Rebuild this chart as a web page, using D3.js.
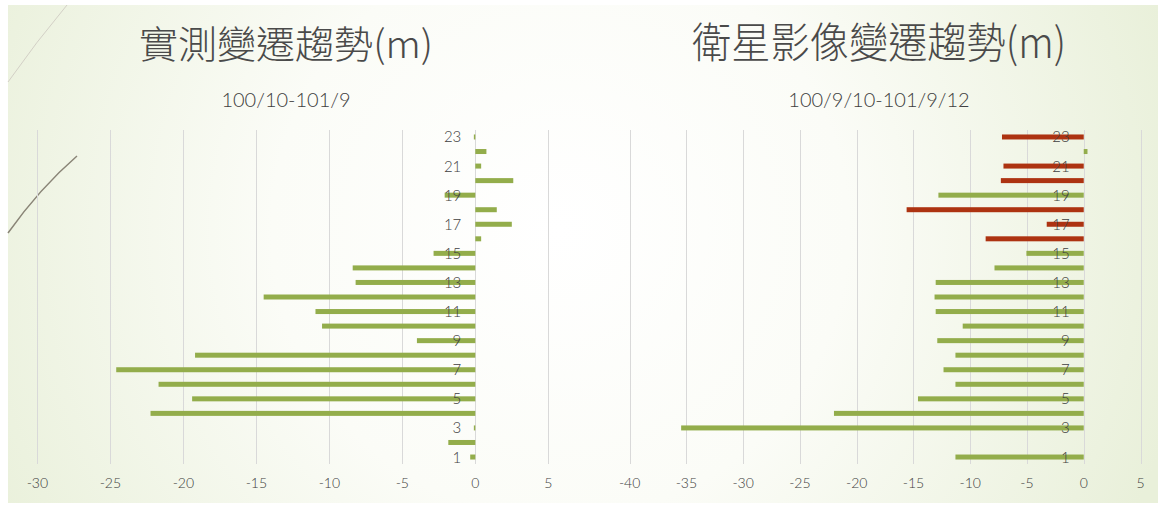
<!DOCTYPE html>
<meta charset="utf-8">
<style>
html, body { margin: 0; padding: 0; background: #fff; }
svg text { font-family: "Lato", "Noto Sans", sans-serif; font-weight: 300; fill: #404040; }
.title { font-family: "Noto Sans CJK TC", "Noto Sans", sans-serif; font-weight: 300; fill: #4a4a4a; }
.grid line { stroke: #d9d9d9; stroke-width: 1; }
</style>
<body>
<script src="https://d3js.org/d3.v7.min.js"></script>
<script>
// categories 1..23
var cats = d3.range(1, 24);
var catLabels = cats.map(function(c) { return c % 2 ? String(c) : ""; });

// 實測變遷趨勢 values (m), by category 1..23
var measured = [-0.35, -1.85, -0.1, -22.25, -19.4, -21.7, -24.6, -19.2, -4.0, -10.5, -10.95,
                -14.5, -8.2, -8.4, -2.86, 0.4, 2.5, 1.47, -2.1, 2.6, 0.4, 0.76, -0.1];
// 衛星影像變遷趨勢 values (m)
var satellite = [-11.3, 0, -35.46, -22.0, -14.6, -11.3, -12.35, -11.3, -12.9, -10.66, -13.04,
                 -13.14, -13.04, -7.86, -5.05, -8.64, -3.26, -15.6, -12.8, -7.3, -7.07, 0.33, -7.2];
// which satellite bars are highlighted red
var satRed = [16, 17, 18, 20, 21, 23];

var leftTicks = [-30, -25, -20, -15, -10, -5, 0, 5];
var rightTicks = [-40, -35, -30, -25, -20, -15, -10, -5, 0, 5];

var W = 1158, H = 506;
var svg = d3.select("body").append("svg").attr("width", W).attr("height", H);

// background slide
var defs = svg.append("defs");
var rg = defs.append("radialGradient").attr("id", "bg")
  .attr("gradientUnits", "userSpaceOnUse")
  .attr("cx", 560).attr("cy", 230).attr("r", 640);
rg.append("stop").attr("offset", "0").attr("stop-color", "#ffffff");
rg.append("stop").attr("offset", "0.45").attr("stop-color", "#fbfcf7");
rg.append("stop").attr("offset", "1").attr("stop-color", "#e9f0da");
svg.append("rect").attr("x", 8).attr("y", 5).attr("width", W - 8).attr("height", 498)
  .attr("fill", "url(#bg)");

// decorative strokes
svg.append("path").attr("d", "M8,82 Q36,42 67,5")
  .attr("fill", "none").attr("stroke", "#d3d0c6").attr("stroke-width", 1);
svg.append("path").attr("d", "M8,233 Q40,188 77,156")
  .attr("fill", "none").attr("stroke", "#8a8577").attr("stroke-width", 1.5);

var y = d3.scaleBand().domain(cats.slice().reverse()).range([129.7, 464.3]);
var barH = 5;

function panel(opt) {
  var x = d3.scaleLinear().domain(opt.domain).range(opt.range);
  var g = svg.append("g");

  g.append("g").attr("class", "grid").selectAll("line").data(opt.ticks).enter().append("line")
    .attr("x1", function(d) { return Math.round(x(d)) + 0.5; })
    .attr("x2", function(d) { return Math.round(x(d)) + 0.5; })
    .attr("y1", 130).attr("y2", 464);

  g.selectAll(".tick-label").data(opt.ticks).enter().append("text")
    .attr("x", function(d) { return x(d); })
    .attr("y", 488)
    .attr("text-anchor", "middle")
    .style("font-size", "14px")
    .text(function(d) { return d; });

  g.selectAll(".bar").data(opt.values).enter().append("rect")
    .attr("x", function(d) { return x(Math.min(0, d)); })
    .attr("width", function(d) { return Math.abs(x(d) - x(0)); })
    .attr("y", function(d, i) { return y(cats[i]) + y.bandwidth() / 2 - barH / 2; })
    .attr("height", barH)
    .attr("fill", function(d, i) { return opt.red.indexOf(cats[i]) >= 0 ? "#ad3311" : "#93ad4b"; });

  g.selectAll(".cat").data(cats).enter().append("text")
    .attr("x", x(0) - 14)
    .attr("y", function(d) { return y(d) + y.bandwidth() / 2 + 5.5; })
    .attr("text-anchor", "end")
    .style("font-size", "15px")
    .text(function(d, i) { return catLabels[i]; });

  g.append("text").attr("class", "title")
    .attr("x", opt.cx).attr("y", 58)
    .attr("text-anchor", "middle")
    .attr("textLength", opt.tw).attr("lengthAdjust", "spacingAndGlyphs")
    .style("font-size", opt.fs + "px")
    .text(opt.title);

  g.append("text")
    .attr("x", opt.cx).attr("y", 107)
    .attr("text-anchor", "middle")
    .style("font-size", "20px")
    .text(opt.sub);
}

panel({ domain: [-30, 5], range: [37.4, 548.3], ticks: leftTicks, values: measured, red: [],
        cx: 286, tw: 294, fs: 38, title: "實測變遷趨勢(m)", sub: "100/10-101/9" });
panel({ domain: [-40, 5], range: [629.6, 1140.5], ticks: rightTicks, values: satellite, red: satRed,
        cx: 879, tw: 374, fs: 42, title: "衛星影像變遷趨勢(m)", sub: "100/9/10-101/9/12" });
</script>
</body>
